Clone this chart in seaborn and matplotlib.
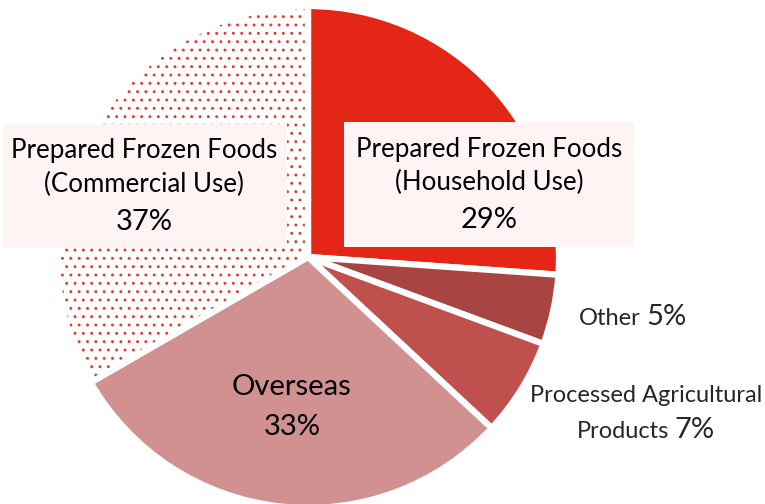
import matplotlib
matplotlib.use("Agg")
import matplotlib.pyplot as plt
import matplotlib.patches as mpatches
import seaborn as sns

# slice data (clockwise from 12 o'clock)
segments = ["Prepared Frozen Foods (Household Use)", "Other", "Processed Agricultural Products",
            "Overseas", "Prepared Frozen Foods (Commercial Use)"]
shares = [29, 5, 7, 33, 37]
share_labels = ["29%", "5%", "7%", "33%", "37%"]
colors = ["#E42616", "#A84442", "#C0504D", "#D19191", "#FFFFFF"]
dot_color = "#E8362A"

sns.set_theme(style="white")
plt.rcParams["font.family"] = ["Lato", "DejaVu Sans"]
plt.rcParams["hatch.linewidth"] = 0.9

W, H = 765, 504
fig = plt.figure(figsize=(W / 100, H / 100), dpi=100)
ax = fig.add_axes([0, 0, 1, 1])
ax.set_xlim(0, W)
ax.set_ylim(0, H)
ax.set_aspect("equal")
ax.axis("off")

def y(v):
    # reference pixel rows are measured from the top
    return H - v

cx, cy, r = 308, y(257), 251
wedges, _ = ax.pie(shares, colors=colors, startangle=90, counterclock=False,
                   center=(cx, cy), radius=r, explode=[0.012, 0, 0, 0, 0],
                   wedgeprops=dict(edgecolor="white", linewidth=4.5))
ax.set_xlim(0, W)
ax.set_ylim(0, H)

# commercial slice: red dots on white under a transparent wedge with white border
com = wedges[4]
com.set_facecolor("none")
com.set_zorder(2)
dots = mpatches.Wedge(com.center, com.r, com.theta1, com.theta2, facecolor="white",
                      edgecolor=dot_color, linewidth=0, hatch="..", zorder=1.5)
ax.add_patch(dots)

# label boxes
box_fc = "#FEF4F4"
ax.add_patch(mpatches.Rectangle((344, y(247)), 290, 125, facecolor=box_fc, edgecolor="none", zorder=3))
ax.add_patch(mpatches.Rectangle((3, y(248)), 284, 124, facecolor=box_fc, edgecolor="none", zorder=3))

big, mid, small = 21, 18.6, 17
tk = dict(ha="center", va="baseline", color="black", zorder=4)

ax.text(489, y(157), "Prepared Frozen Foods", fontsize=mid, **tk)
ax.text(489, y(190), "(Household Use)", fontsize=mid, **tk)
ax.text(489, y(228), share_labels[0], fontsize=big, **tk)

ax.text(144, y(158), "Prepared Frozen Foods", fontsize=mid, **tk)
ax.text(144, y(192), "(Commercial Use)", fontsize=mid, **tk)
ax.text(144, y(230), share_labels[4], fontsize=big, **tk)

ax.text(292, y(395), "Overseas", fontsize=big, **tk)
ax.text(292, y(435), share_labels[3], fontsize=big, **tk)

ax.text(641, y(325), "Other", fontsize=small, ha="right", va="baseline", zorder=4)
ax.text(646, y(325), share_labels[1], fontsize=big, ha="left", va="baseline", zorder=4)

ax.text(646, y(402), "Processed Agricultural", fontsize=small, ha="center", va="baseline", zorder=4)
ax.text(669, y(438), "Products", fontsize=small, ha="right", va="baseline", zorder=4)
ax.text(674, y(438), share_labels[2], fontsize=big, ha="left", va="baseline", zorder=4)

fig.savefig("out.png", dpi=100)
